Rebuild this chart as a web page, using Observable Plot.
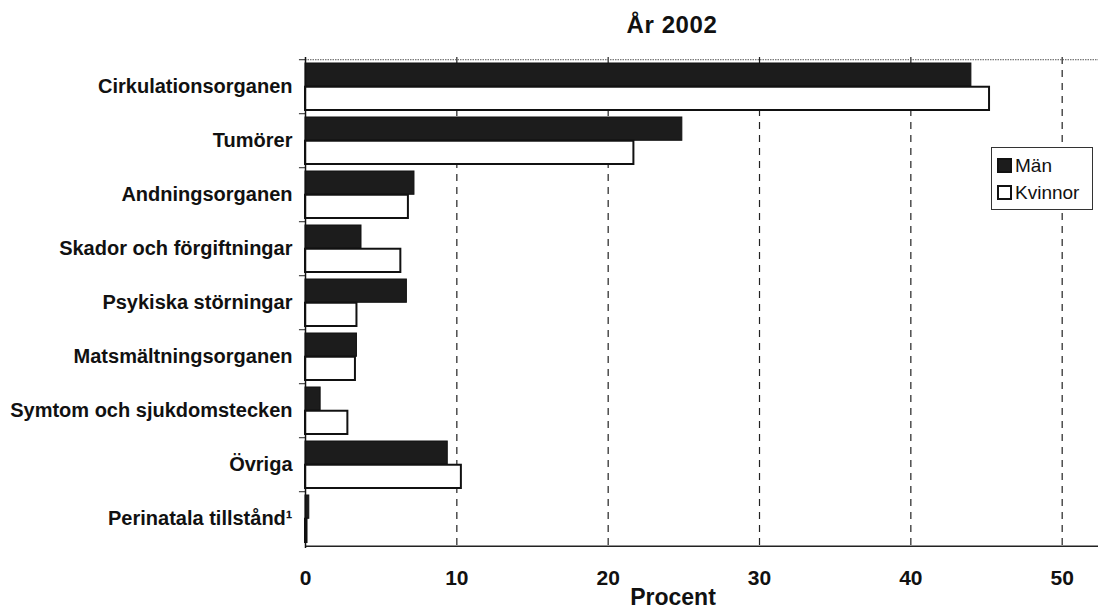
<!DOCTYPE html>
<html>
<head>
<meta charset="utf-8">
<script src="https://cdn.jsdelivr.net/npm/d3@7"></script>
<script src="https://cdn.jsdelivr.net/npm/@observablehq/plot@0.6"></script>
<style>
  html, body { margin: 0; padding: 0; background: #fff; overflow: hidden; }
  body { width: 1098px; height: 611px; position: relative; font-family: "Liberation Sans", Arial, sans-serif; }
  #title { height: 48px; position: relative; }
  #title span { position: absolute; left: 672px; top: 11px; transform: translateX(-50%); font-weight: bold; font-size: 24px; letter-spacing: 0.6px; color: #111; white-space: nowrap; }
  #xlabel { position: absolute; left: 673px; top: 584px; transform: translateX(-50%); font-weight: bold; font-size: 23px; color: #111; white-space: nowrap; }
  #legend { position: absolute; left: 991px; top: 147px; width: 102px; height: 63px; border: 1.5px solid #333; background: #fff; box-sizing: border-box; padding: 4px 0 0 5px; }
  #legend div { display: flex; align-items: center; font-size: 19px; color: #111; height: 27px; }
  #legend i { display: inline-block; width: 11px; height: 11px; border: 2px solid #111; margin-right: 3px; }
</style>
</head>
<body>
<div id="title"><span>År 2002</span></div>
<div id="chart"></div>
<div id="xlabel">Procent</div>
<div id="legend">
  <div><i style="background:#1c1c1c"></i>Män</div>
  <div><i style="background:#fff"></i>Kvinnor</div>
</div>
<script>
const categories = [
  "Cirkulationsorganen",
  "Tumörer",
  "Andningsorganen",
  "Skador och förgiftningar",
  "Psykiska störningar",
  "Matsmältningsorganen",
  "Symtom och sjukdomstecken",
  "Övriga",
  "Perinatala tillstånd¹"
];
const man     = [44.0, 24.9, 7.2, 3.7, 6.7, 3.4, 1.0, 9.4, 0.25];
const kvinnor = [45.2, 21.7, 6.8, 6.3, 3.4, 3.3, 2.8, 10.3, 0.1];
const xTicks = [0, 10, 20, 30, 40, 50];
const gridTicks = [10, 20, 30, 40, 50];

const rows = categories.map((c, i) => ({category: c, man: man[i], kvinnor: kvinnor[i]}));

const H = 560, mTop = 9, mBottom = 60;
const plotH = H - mTop - mBottom;
const pIn = 0.13, pOut = 0.065;
const step = plotH / (categories.length - pIn + 2 * pOut);
const bw = step * (1 - pIn);
const half = bw / 2;
const edge = bw / 2 + step * pOut;

const chart = Plot.plot({
  width: 1098,
  height: H,
  marginLeft: 305,
  marginRight: 0,
  marginTop: mTop,
  marginBottom: mBottom,
  style: {fontFamily: "'Liberation Sans', Arial, sans-serif", color: "#111", background: "#fff"},
  x: {domain: [0, 52.4]},
  y: {domain: categories, paddingInner: pIn, paddingOuter: pOut},
  marks: [
    Plot.ruleX(gridTicks, {stroke: "#222", strokeWidth: 1.2, strokeDasharray: "7,6"}),
    Plot.ruleY([categories[0]], {dy: -edge, stroke: "#555", strokeWidth: 1, strokeDasharray: "1.5,1"}),
    Plot.barX(rows, {y: "category", x: "man", fill: "#1c1c1c", stroke: "#111", strokeWidth: 1, insetBottom: half}),
    Plot.barX(rows, {y: "category", x: "kvinnor", fill: "#fff", stroke: "#111", strokeWidth: 2, insetTop: half}),
    Plot.ruleY(categories, {dy: -step / 2, x1: -0.4, x2: 0, stroke: "#222", strokeWidth: 1}),
    Plot.ruleY([categories[categories.length - 1]], {dy: edge, stroke: "#222", strokeWidth: 1.5}),
    Plot.ruleX([0], {stroke: "#111", strokeWidth: 1.5}),
    Plot.axisX(xTicks, {tickSize: 0, tickPadding: 22, fontSize: 21, fontWeight: "bold", label: null}),
    Plot.axisY({tickSize: 0, tickPadding: 13, fontSize: 20, fontWeight: "bold", label: null})
  ]
});
document.getElementById("chart").appendChild(chart);
</script>
</body>
</html>
